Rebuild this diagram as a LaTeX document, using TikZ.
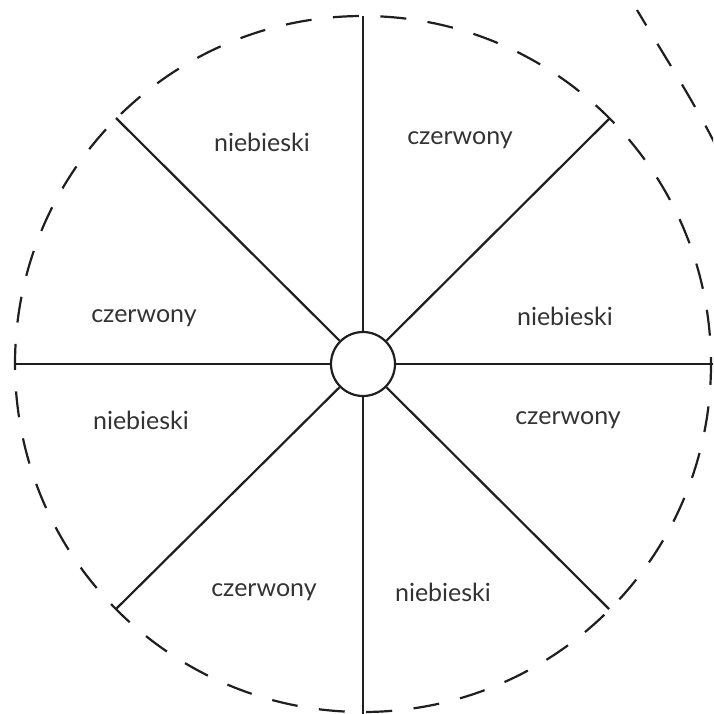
\documentclass[tikz,border=0pt]{standalone}
\usepackage{fontspec}
\setmainfont{Lato}
\begin{document}
\begin{tikzpicture}[x=1pt,y=-1pt,
  ink/.style={draw=black!88, line width=2.2pt},
  dashring/.style={ink, dash pattern=on 26pt off 21.5pt},
  lbl/.style={font=\fontsize{25}{30}\selectfont, text=black!80, inner sep=0pt}]
\useasboundingbox (0,0) rectangle (713,714);
\begin{scope}
\clip (0,0) rectangle (713,714);
% outer dashed circle
\draw[dashring, dash phase=5pt] (363,364) circle[radius=348];
% extra dashed arc at the top right
\draw[dashring, dash phase=8pt] (637,10) .. controls (668,62) and (698,108) .. (722,158);
% centre circle
\node[ink, circle, minimum size=64pt, inner sep=0pt, fill=white] (c) at (363,364) {};
% spoke ends
\coordinate (n) at (363,16);
\coordinate (s) at (363,716);
\coordinate (w) at (14,364);
\coordinate (e) at (716,364);
\coordinate (ne) at (610,118);
\coordinate (nw) at (116,118);
\coordinate (se) at (609,609);
\coordinate (sw) at (116,609);
\foreach \p in {n,s,w,e,ne,nw,se,sw} \draw[ink] (c) -- (\p);
\end{scope}
% labels
\node[lbl] (l1) at (262,142) {niebieski};
\node[lbl] (l2) at (460,140) {czerwony};
\node[lbl] (l3) at (144,318) {czerwony};
\node[lbl] (l4) at (565,316) {niebieski};
\node[lbl] (l5) at (141,420) {niebieski};
\node[lbl] (l6) at (568,420) {czerwony};
\node[lbl] (l7) at (264,592) {czerwony};
\node[lbl] (l8) at (443,592) {niebieski};
\end{tikzpicture}
\end{document}
